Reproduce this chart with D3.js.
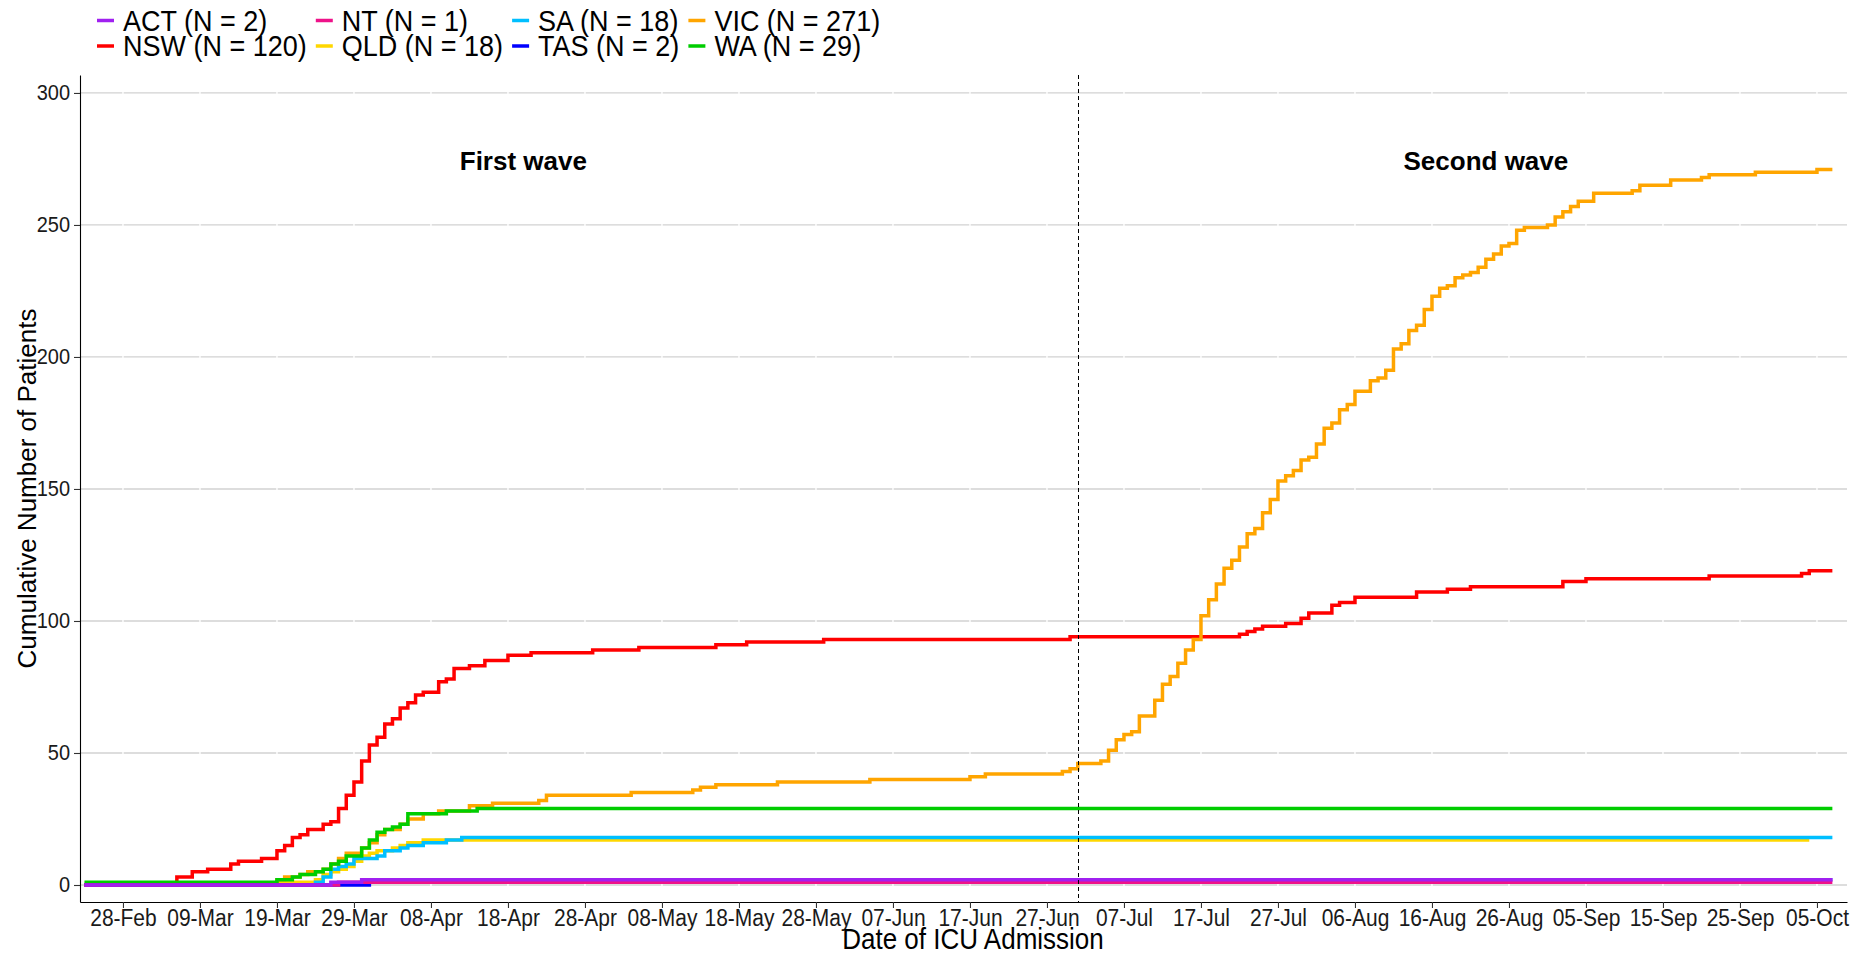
<!DOCTYPE html>
<html>
<head>
<meta charset="utf-8">
<script src="https://cdn.jsdelivr.net/npm/d3@7"></script>
<style>
body { margin: 0; background: #fff; }
text { font-family: "Liberation Sans", Arial, sans-serif; }
</style>
</head>
<body>
<script>

// cumulative ICU admissions per state: [date, patients]
var ACT = [["2020-02-23",0],["2020-03-26",1],["2020-03-30",2],["2020-10-07",2]];
var NT  = [["2020-02-23",0],["2020-03-27",1],["2020-10-07",1]];
var TAS = [["2020-02-23",0],["2020-03-31",1],["2020-04-05",2],["2020-10-07",2]];
var NSW = [["2020-02-23",0],["2020-03-06",3],["2020-03-08",5],["2020-03-10",6],["2020-03-13",8],["2020-03-14",9],
  ["2020-03-17",10],["2020-03-19",13],["2020-03-20",15],["2020-03-21",18],["2020-03-22",19],["2020-03-23",21],
  ["2020-03-25",23],["2020-03-26",24],["2020-03-27",29],["2020-03-28",34],["2020-03-29",39],["2020-03-30",47],
  ["2020-03-31",53],["2020-04-01",56],["2020-04-02",61],["2020-04-03",63],["2020-04-04",67],["2020-04-05",69],
  ["2020-04-06",72],["2020-04-07",73],["2020-04-09",77],["2020-04-10",78],["2020-04-11",82],["2020-04-13",83],
  ["2020-04-15",85],["2020-04-18",87],["2020-04-21",88],["2020-04-29",89],["2020-05-05",90],["2020-05-15",91],
  ["2020-05-19",92],["2020-05-29",93],["2020-06-30",94],["2020-07-22",95],["2020-07-23",96],["2020-07-24",97],
  ["2020-07-25",98],["2020-07-28",99],["2020-07-30",101],["2020-07-31",103],["2020-08-03",106],["2020-08-04",107],
  ["2020-08-06",109],["2020-08-14",111],["2020-08-18",112],["2020-08-21",113],["2020-09-02",115],["2020-09-05",116],
  ["2020-09-21",117],["2020-10-03",118],["2020-10-04",119],["2020-10-07",119]];
var QLD = [["2020-02-23",0],["2020-03-19",1],["2020-03-24",2],["2020-03-25",4],["2020-03-26",5],["2020-03-27",6],
  ["2020-03-28",7],["2020-03-29",9],["2020-03-30",11],["2020-03-31",12],["2020-04-01",13],["2020-04-03",14],
  ["2020-04-04",15],["2020-04-05",16],["2020-04-07",17],["2020-10-04",17]];
var SA  = [["2020-02-23",0],["2020-03-24",1],["2020-03-25",3],["2020-03-26",6],["2020-03-27",7],["2020-03-28",8],
  ["2020-03-29",10],["2020-04-01",11],["2020-04-02",13],["2020-04-04",14],["2020-04-05",15],["2020-04-07",16],
  ["2020-04-10",17],["2020-04-12",18],["2020-10-07",18]];
var VIC = [["2020-02-23",0],["2020-03-19",2],["2020-03-20",3],["2020-03-22",4],["2020-03-23",5],["2020-03-25",6],
  ["2020-03-26",8],["2020-03-27",10],["2020-03-28",12],["2020-03-30",14],["2020-03-31",16],["2020-04-01",19],
  ["2020-04-02",21],["2020-04-04",23],["2020-04-05",25],["2020-04-07",27],["2020-04-09",28],["2020-04-13",30],
  ["2020-04-16",31],["2020-04-22",32],["2020-04-23",34],["2020-05-04",35],["2020-05-12",36],["2020-05-13",37],
  ["2020-05-15",38],["2020-05-23",39],["2020-06-04",40],["2020-06-17",41],["2020-06-19",42],["2020-06-29",43],
  ["2020-06-30",44],["2020-07-01",46],["2020-07-04",47],["2020-07-05",51],["2020-07-06",55],["2020-07-07",57],
  ["2020-07-08",58],["2020-07-09",64],["2020-07-11",70],["2020-07-12",76],["2020-07-13",79],["2020-07-14",84],
  ["2020-07-15",89],["2020-07-16",93],["2020-07-17",102],["2020-07-18",108],["2020-07-19",114],["2020-07-20",120],
  ["2020-07-21",123],["2020-07-22",128],["2020-07-23",133],["2020-07-24",135],["2020-07-25",141],["2020-07-26",146],
  ["2020-07-27",153],["2020-07-28",155],["2020-07-29",157],["2020-07-30",161],["2020-07-31",162],["2020-08-01",167],
  ["2020-08-02",173],["2020-08-03",175],["2020-08-04",180],["2020-08-05",182],["2020-08-06",187],["2020-08-08",191],
  ["2020-08-09",192],["2020-08-10",195],["2020-08-11",203],["2020-08-12",205],["2020-08-13",210],["2020-08-14",212],
  ["2020-08-15",218],["2020-08-16",223],["2020-08-17",226],["2020-08-18",227],["2020-08-19",230],["2020-08-20",231],
  ["2020-08-21",232],["2020-08-22",234],["2020-08-23",237],["2020-08-24",239],["2020-08-25",242],["2020-08-26",243],
  ["2020-08-27",248],["2020-08-28",249],["2020-08-31",250],["2020-09-01",253],["2020-09-02",255],["2020-09-03",257],
  ["2020-09-04",259],["2020-09-06",262],["2020-09-11",263],["2020-09-12",265],["2020-09-16",267],["2020-09-20",268],
  ["2020-09-21",269],["2020-09-27",270],["2020-10-05",271],["2020-10-07",271]];
var WA  = [["2020-02-23",1],["2020-03-19",2],["2020-03-21",3],["2020-03-22",4],["2020-03-24",5],["2020-03-25",6],
  ["2020-03-26",8],["2020-03-27",9],["2020-03-28",11],["2020-03-30",14],["2020-03-31",17],["2020-04-01",20],
  ["2020-04-02",21],["2020-04-03",22],["2020-04-04",23],["2020-04-05",27],["2020-04-10",28],["2020-04-14",29],
  ["2020-10-07",29]];

var states  = ["ACT","NSW","NT","QLD","SA","TAS","VIC","WA"];
var totals  = [2, 120, 1, 18, 18, 2, 271, 29];
var colours = ["#A020F0","#FF0000","#EE1289","#FFD700","#00BFFF","#0000FF","#FFA500","#00CD00"];
var series  = {ACT:ACT, NSW:NSW, NT:NT, QLD:QLD, SA:SA, TAS:TAS, VIC:VIC, WA:WA};
var drawOrder = ["NSW","QLD","SA","VIC","WA","TAS","NT","ACT"];

var yTicks = [0, 50, 100, 150, 200, 250, 300];
var xTicks = ["2020-02-28","2020-03-09","2020-03-19","2020-03-29","2020-04-08","2020-04-18","2020-04-28",
  "2020-05-08","2020-05-18","2020-05-28","2020-06-07","2020-06-17","2020-06-27","2020-07-07","2020-07-17",
  "2020-07-27","2020-08-06","2020-08-16","2020-08-26","2020-09-05","2020-09-15","2020-09-25","2020-10-05"];

var waveSplit = "2020-07-01";
var waveLabels = ["First wave", "Second wave"];
var waveLabelDates = ["2020-04-20", "2020-08-23"];
var waveLabelY = 271;

var w = 1868, h = 955;
var pLeft = 80, pRight = 1847, pTop = 75, pBottom = 902;

var parseDay = d3.utcParse("%Y-%m-%d");
var parseTime = d3.utcParse("%Y-%m-%dT%H:%M");

var x = d3.scaleUtc()
  .domain([parseTime("2020-02-22T10:05"), parseTime("2020-10-08T21:36")])
  .range([pLeft, pRight]);
var y = d3.scaleLinear().domain([-6.44, 306.8]).range([pBottom, pTop]);

var svg = d3.select("body").append("svg")
  .attr("width", w)
  .attr("height", h);

// the reference text is a little taller than it is wide, so stretch it about a baseline
function stretch(sel, k, base) {
  sel.attr("transform", "translate(0," + (base * (1 - k)) + ") scale(1," + k + ")");
}

// grid: grey horizontals, broken by white verticals at the date ticks
svg.append("g").selectAll("line")
  .data(yTicks).enter().append("line")
  .attr("x1", pLeft).attr("x2", pRight)
  .attr("y1", function(d){ return y(d); })
  .attr("y2", function(d){ return y(d); })
  .attr("stroke", "#d2d2d2").attr("stroke-width", 1.3);

svg.append("g").selectAll("line")
  .data(xTicks).enter().append("line")
  .attr("x1", function(d){ return x(parseDay(d)); })
  .attr("x2", function(d){ return x(parseDay(d)); })
  .attr("y1", pTop).attr("y2", pBottom)
  .attr("stroke", "#fff").attr("stroke-width", 1.4);

// step lines
var line = d3.line()
  .curve(d3.curveStepAfter)
  .x(function(d){ return x(parseDay(d[0])); })
  .y(function(d){ return y(d[1]); });

svg.append("g").selectAll("path")
  .data(drawOrder).enter().append("path")
  .attr("d", function(s){ return line(series[s]); })
  .attr("fill", "none")
  .attr("stroke", function(s){ return colours[states.indexOf(s)]; })
  .attr("stroke-width", 3.5);

// split between waves
var splitX = Math.round(x(parseDay(waveSplit))) + 0.5;
svg.append("line")
  .attr("x1", splitX).attr("x2", splitX)
  .attr("y1", pTop).attr("y2", pBottom)
  .attr("stroke", "#000").attr("stroke-width", 1)
  .attr("stroke-dasharray", "4,3");

svg.append("g").selectAll("text")
  .data(waveLabels).enter().append("text")
  .attr("x", function(d, i){ return x(parseDay(waveLabelDates[i])); })
  .attr("y", y(waveLabelY))
  .attr("text-anchor", "middle")
  .attr("font-size", 26)
  .attr("font-weight", "bold")
  .attr("fill", "#000")
  .text(function(d){ return d; });

// axes
var yAxis = svg.append("g")
  .attr("transform", "translate(" + pLeft + ",0)")
  .call(d3.axisLeft(y).tickValues(yTicks).tickSize(6).tickSizeOuter(0).tickPadding(4));
var xAxis = svg.append("g")
  .attr("transform", "translate(0," + pBottom + ")")
  .call(d3.axisBottom(x).tickValues(xTicks.map(parseDay)).tickSize(6).tickSizeOuter(0).tickPadding(4)
    .tickFormat(d3.utcFormat("%d-%b")));

[yAxis, xAxis].forEach(function(g){
  g.select(".domain").attr("stroke", "#000").attr("stroke-width", 1.1);
  g.selectAll(".tick line").attr("stroke", "#333").attr("stroke-width", 1.1);
  g.selectAll(".tick text").attr("fill", "#1a1a1a")
    .attr("font-family", "Liberation Sans, Arial, sans-serif");
});
yAxis.selectAll(".tick text").attr("font-size", 20)
  .call(stretch, 1.08, 0);
xAxis.selectAll(".tick text").attr("font-size", 21)
  .attr("y", 24).attr("dy", null)
  .call(stretch, 1.15, 24);

svg.append("text")
  .attr("x", 973)
  .attr("y", 949)
  .attr("text-anchor", "middle")
  .attr("font-size", 26)
  .text("Date of ICU Admission")
  .call(stretch, 1.1, 949);

svg.append("text")
  .attr("transform", "translate(36," + ((pTop + pBottom) / 2) + ") rotate(-90)")
  .attr("text-anchor", "middle")
  .attr("font-size", 26)
  .text("Cumulative Number of Patients");

// legend, two rows filled column by column
var legend = svg.append("g");
var rowsY = [20.5, 46];
var colX = [97];
var items = states.map(function(s, i){
  return {name: s, label: s + " (N = " + totals[i] + ")", colour: colours[i], col: Math.floor(i / 2), row: i % 2};
});

var probe = legend.append("text").attr("font-size", 27);
var colWidth = [0, 0, 0, 0];
items.forEach(function(d){
  probe.text(d.label);
  colWidth[d.col] = Math.max(colWidth[d.col], probe.node().getComputedTextLength());
});
probe.remove();
for (var c = 1; c < 4; c++) colX[c] = colX[c-1] + 26 + colWidth[c-1] + 9;

items.forEach(function(d){
  legend.append("line")
    .attr("x1", colX[d.col]).attr("x2", colX[d.col] + 17)
    .attr("y1", rowsY[d.row]).attr("y2", rowsY[d.row])
    .attr("stroke", d.colour).attr("stroke-width", 3.5);
  legend.append("text")
    .attr("x", colX[d.col] + 26)
    .attr("y", rowsY[d.row])
    .attr("dy", "0.35em")
    .attr("font-size", 27)
    .attr("fill", "#000")
    .text(d.label)
    .call(stretch, 1.06, rowsY[d.row]);
});

</script>
</body>
</html>
